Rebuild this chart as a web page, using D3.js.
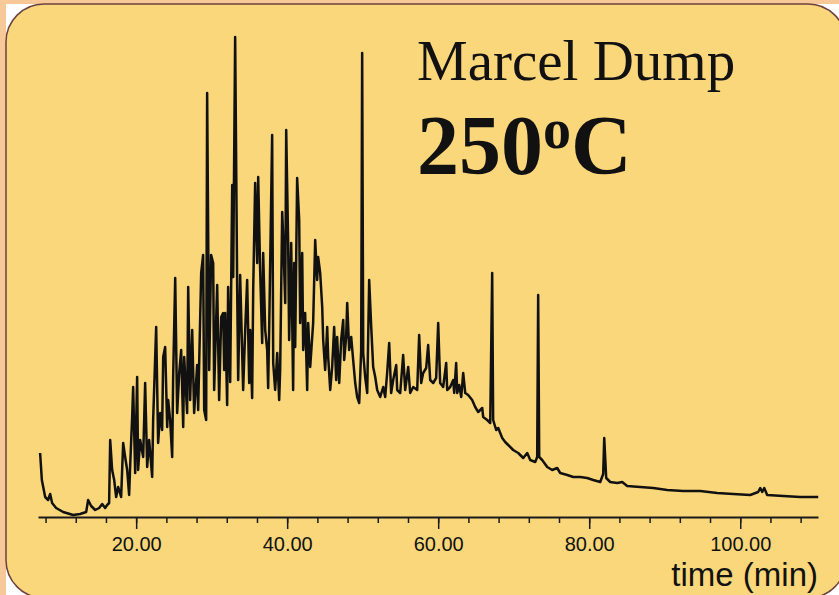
<!DOCTYPE html>
<html>
<head>
<meta charset="utf-8">
<script src="https://d3js.org/d3.v7.min.js"></script>
<style>
  html, body { margin: 0; padding: 0; background: #f7c998; }
</style>
</head>
<body>
<div id="my_dataviz"></div>
<script>
// retention time (min) and detector abundance (arbitrary units)
var times = [7.28, 7.51, 7.95, 8.34, 8.61, 8.87, 9.40, 10.33, 11.66, 12.58, 13.38, 13.64, 14.04, 14.57, 15.10, 15.50, 15.89, 16.16, 16.42,
  16.56, 16.82, 17.09, 17.35, 17.62, 18.01, 18.28, 18.54, 18.81, 19.07, 19.20, 19.47, 19.60, 19.87, 20.13, 20.26, 20.53, 20.93,
  21.19, 21.46, 21.72, 22.12, 22.25, 22.65, 22.91, 23.18, 23.44, 23.58, 23.84, 24.11, 24.24, 24.50, 24.77, 24.90, 25.17, 25.43,
  25.70, 25.96, 26.23, 26.36, 26.75, 26.89, 27.15, 27.42, 27.68, 28.08, 28.21, 28.61, 28.87, 29.01, 29.27, 29.40, 29.67, 29.93,
  30.20, 30.33, 30.73, 30.99, 31.26, 31.52, 31.66, 31.79, 32.05, 32.18, 32.45, 32.72, 32.85, 33.11, 33.38, 33.51, 33.77, 34.17,
  34.44, 34.70, 34.97, 35.10, 35.36, 35.50, 35.76, 36.03, 36.16, 36.42, 36.69, 36.82, 37.09, 37.35, 37.48, 37.62, 38.01, 38.15,
  38.41, 38.68, 38.94, 39.07, 39.34, 39.47, 39.74, 39.87, 40.13, 40.26, 40.53, 40.79, 40.93, 41.06, 41.32, 41.59, 41.72, 41.99,
  42.12, 42.38, 42.65, 42.78, 43.05, 43.44, 43.71, 43.97, 44.10, 44.37, 44.64, 44.77, 45.03, 45.30, 45.43, 45.70, 45.96, 46.22,
  46.49, 46.62, 46.89, 47.15, 47.42, 47.55, 47.81, 47.95, 48.21, 48.48, 48.74, 49.01, 49.27, 49.54, 49.80, 49.93, 50.07, 50.33,
  50.60, 50.86, 51.13, 51.39, 51.66, 51.92, 52.32, 52.72, 52.98, 53.24, 53.51, 53.77, 54.04, 54.44, 54.57, 54.97, 55.36, 55.63,
  56.03, 56.29, 56.69, 57.22, 57.48, 57.75, 58.01, 58.41, 58.67, 58.94, 59.34, 59.73, 60.00, 60.26, 60.66, 61.06, 61.19, 61.59,
  61.99, 62.12, 62.38, 62.52, 62.78, 63.05, 63.31, 63.58, 63.97, 64.50, 64.90, 65.30, 65.83, 65.96, 66.49, 66.89, 67.15, 67.28,
  67.68, 67.95, 68.48, 68.87, 69.27, 69.93, 70.60, 71.26, 71.79, 72.19, 72.85, 73.11, 73.24, 73.38, 73.77, 74.44, 75.10, 75.76,
  76.16, 77.09, 77.88, 78.81, 79.73, 80.53, 81.46, 81.85, 81.99, 82.25, 82.78, 83.71, 84.37, 85.03, 86.75, 88.48, 90.33, 92.45,
  94.70, 96.95, 99.07, 101.32, 102.38, 102.65, 102.91, 103.18, 103.57, 105.70, 107.95, 110.33];

var abundance = [64, 37, 20, 17, 23, 14, 9, 5, 2, 3, 5, 17, 11, 7, 9, 13, 9, 12, 14,
  77, 47, 37, 20, 30, 20, 74, 60, 47, 22, 50, 100, 130, 44, 140, 47, 77, 60,
  134, 50, 77, 40, 97, 190, 74, 104, 87, 160, 170, 90, 117, 97, 60, 140, 239, 104,
  144, 167, 90, 160, 104, 230, 117, 187, 104, 152, 107, 244, 262, 107, 97, 424, 147, 262,
  254, 127, 232, 117, 200, 204, 147, 204, 112, 230, 135, 332, 240, 480, 227, 137, 242, 127,
  187, 237, 134, 187, 119, 227, 334, 254, 340, 247, 174, 264, 187, 167, 129, 190, 382, 154,
  127, 164, 117, 147, 305, 280, 214, 387, 274, 177, 274, 127, 254, 170, 339, 297, 194, 264,
  167, 204, 127, 194, 150, 194, 277, 237, 260, 244, 210, 177, 147, 190, 160, 127, 150, 190,
  137, 180, 134, 177, 197, 157, 180, 214, 167, 180, 157, 134, 120, 114, 167, 464, 164, 140,
  124, 237, 190, 150, 140, 127, 120, 130, 120, 144, 174, 124, 137, 152, 127, 124, 162, 127,
  150, 124, 130, 127, 182, 134, 144, 149, 172, 137, 134, 139, 194, 134, 130, 154, 127, 130,
  137, 124, 154, 124, 132, 120, 144, 124, 122, 117, 110, 105, 109, 100, 97, 94, 244, 97,
  87, 89, 79, 75, 72, 67, 64, 59, 64, 57, 55, 60, 222, 60, 57, 50, 47, 49,
  44, 42, 40, 40, 39, 37, 35, 43, 79, 39, 35, 34, 35, 31, 30, 29, 27, 26,
  26, 24, 23, 22, 25, 29, 25, 29, 22, 21, 20, 20];

var minorTicks = d3.range(8, 110, 4);
var majorTicks = [20, 40, 60, 80, 100];

var data = times.map(function(t, i) { return {t: t, v: abundance[i]}; });

var width = 839, height = 595;

var svg = d3.select("#my_dataviz")
  .append("svg")
    .attr("width", width)
    .attr("height", height)
    .style("display", "block");

// slide panel: white behind the rounded corners, yellow card on top
svg.append("rect")
    .attr("x", 6).attr("y", 4)
    .attr("width", 900).attr("height", 700)
    .attr("fill", "#ffffff");
svg.append("rect")
    .attr("x", 6).attr("y", 4)
    .attr("width", 840).attr("height", 594)
    .attr("rx", 38).attr("ry", 38)
    .attr("fill", "#fad77a")
    .attr("stroke", "#6e4040")
    .attr("stroke-width", 1.5);

// scales
var x = d3.scaleLinear()
  .domain([7, 110.3])
  .range([38, 818]);
var y = d3.scaleLinear()
  .domain([0, 480])
  .range([517, 37]);

// minor ticks
svg.append("g")
    .attr("transform", "translate(0,517)")
    .call(d3.axisBottom(x)
      .tickValues(minorTicks)
      .tickSize(6)
      .tickSizeOuter(0)
      .tickFormat(""))
    .call(function(g) {
      g.select(".domain").attr("stroke", "#1a1a1a").attr("stroke-width", 2);
      g.selectAll(".tick line").attr("stroke", "#1a1a1a").attr("stroke-width", 1.5);
    });

// major ticks with labels
svg.append("g")
    .attr("transform", "translate(0,517)")
    .call(d3.axisBottom(x)
      .tickValues(majorTicks)
      .tickSize(12)
      .tickSizeOuter(0)
      .tickPadding(8)
      .tickFormat(d3.format(".2f")))
    .call(function(g) {
      g.select(".domain").remove();
      g.selectAll(".tick line").attr("stroke", "#1a1a1a").attr("stroke-width", 1.5);
      g.selectAll(".tick text")
        .attr("fill", "#111")
        .style("font-family", "Liberation Sans, Arial, sans-serif")
        .style("font-size", "20px");
    });

// axis title
svg.append("text")
    .attr("x", 818)
    .attr("y", 586)
    .attr("text-anchor", "end")
    .style("font-family", "Liberation Sans, Arial, sans-serif")
    .style("font-size", "33px")
    .attr("fill", "#111")
    .text("time (min)");

// the chromatogram trace
svg.append("path")
    .datum(data)
    .attr("fill", "none")
    .attr("stroke", "#111")
    .attr("stroke-width", 2.5)
    .attr("stroke-linejoin", "round")
    .attr("d", d3.line()
      .x(function(d) { return x(d.t); })
      .y(function(d) { return y(d.v); }));

// sample labels
svg.append("text")
    .attr("x", 417)
    .attr("y", 80)
    .style("font-family", "Liberation Serif, serif")
    .style("font-size", "57px")
    .attr("fill", "#111")
    .text("Marcel Dump");

var temp = svg.append("text")
    .attr("x", 417)
    .attr("y", 174)
    .style("font-family", "Liberation Serif, serif")
    .style("font-weight", "bold")
    .style("font-size", "84px")
    .attr("fill", "#111");
temp.append("tspan").text("250");
temp.append("tspan").attr("dy", -26).style("font-size", "56px").text("o");
temp.append("tspan").attr("dy", 26).text("C");
</script>
</body>
</html>
